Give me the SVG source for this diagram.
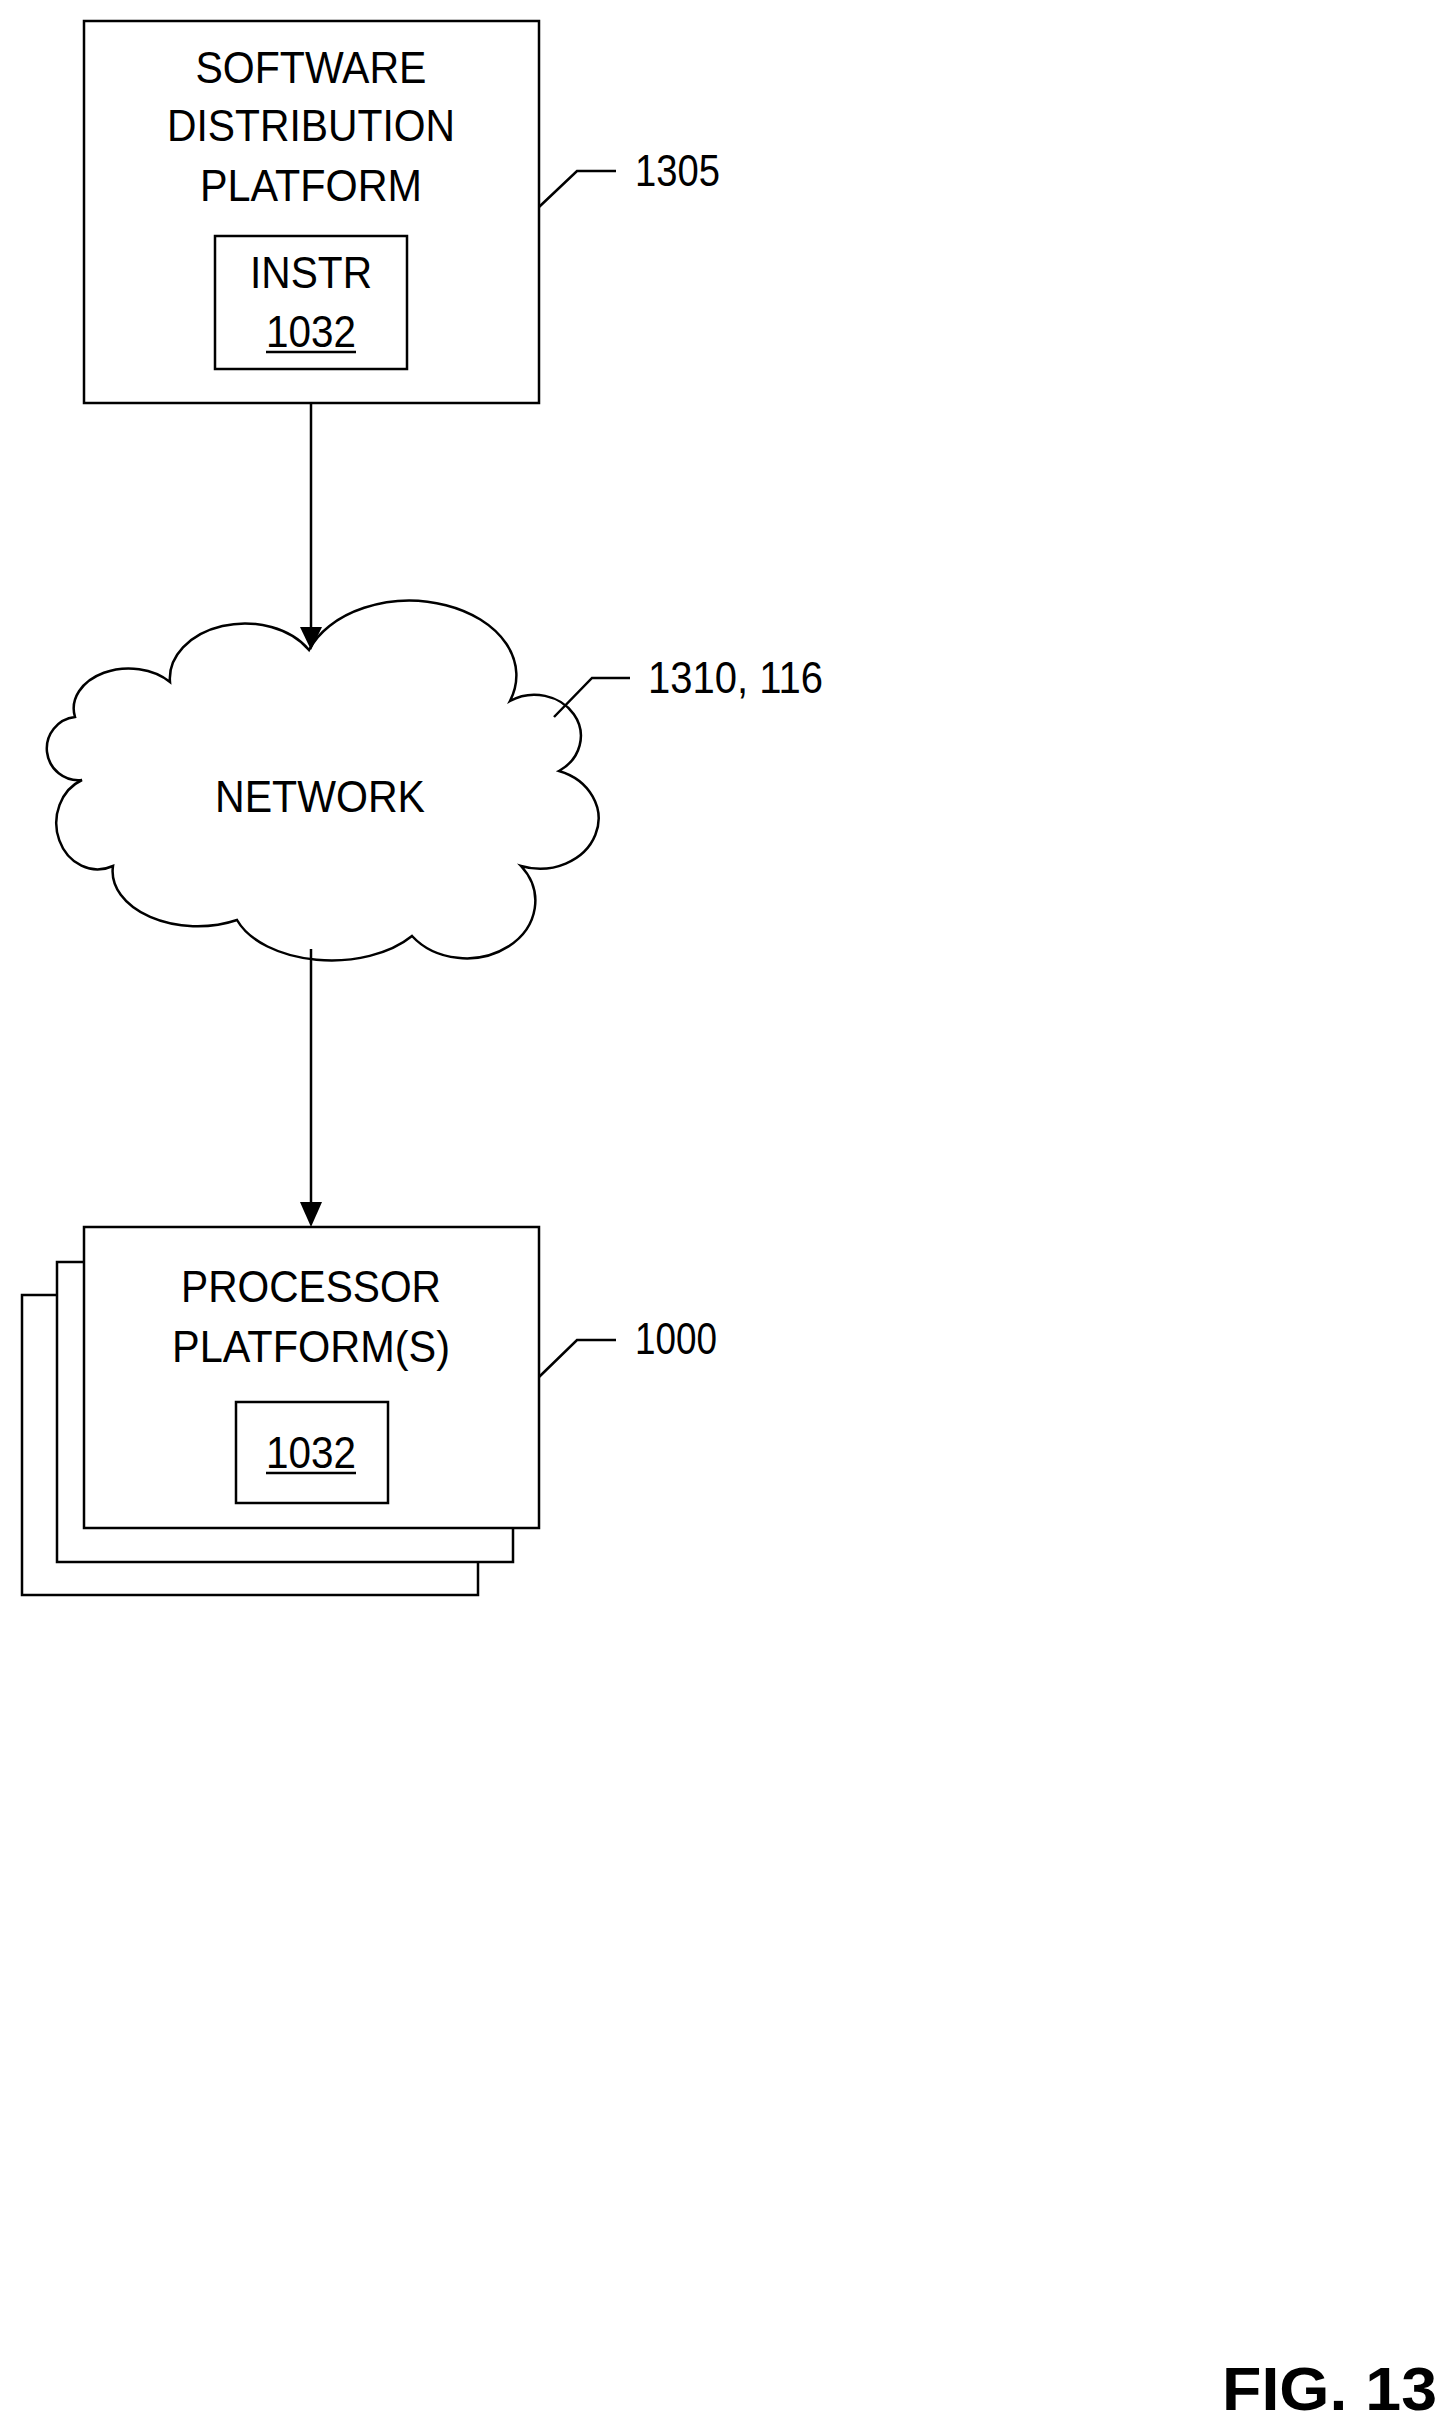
<svg xmlns="http://www.w3.org/2000/svg" width="1455" height="2422" viewBox="0 0 1455 2422">
<style>
.b{fill:#fff;stroke:#000;stroke-width:2.5}
.t{font-family:"Liberation Sans",Arial,sans-serif;font-size:44px;text-anchor:middle;fill:#000}
.l{font-family:"Liberation Sans",Arial,sans-serif;font-size:44px;fill:#000}
.ln{fill:none;stroke:#000;stroke-width:2.5}
</style>
<rect width="1455" height="2422" fill="#fff"/>
<g id="sdp">
<rect class="b" x="84" y="21" width="455" height="382"/>
<text class="t" x="311" y="83" textLength="231" lengthAdjust="spacingAndGlyphs">SOFTWARE</text>
<text class="t" x="311" y="141" textLength="288" lengthAdjust="spacingAndGlyphs">DISTRIBUTION</text>
<text class="t" x="311" y="201" textLength="222" lengthAdjust="spacingAndGlyphs">PLATFORM</text>
<rect class="b" x="215" y="236" width="192" height="133"/>
<text class="t" x="311" y="288" textLength="122" lengthAdjust="spacingAndGlyphs">INSTR</text>
<text class="t" x="311" y="347" textLength="90" lengthAdjust="spacingAndGlyphs">1032</text>
<line class="ln" x1="266" y1="352" x2="356" y2="352"/>
<polyline class="ln" points="539,207 577,171 616,171"/>
<text class="l" x="635" y="186" textLength="85" lengthAdjust="spacingAndGlyphs">1305</text>
</g>
<g id="network">
<path class="b" d="M170,682 A75,55 0 0 1 309,650 A100,70 0 0 1 510,701 A45,40 0 0 1 559,771 A35,30 0 0 1 521,866 A60,50 0 0 1 412,936 A100,60 0 0 1 237,920 A85,55 0 0 1 113,866 A40,45 0 0 1 82,780 A30,30 0 0 1 75,717 A55,40 0 0 1 170,682 Z"/>
<text class="t" x="320" y="812" textLength="210" lengthAdjust="spacingAndGlyphs">NETWORK</text>
<polyline class="ln" points="554,717 592,678 630,678"/>
<text class="l" x="648" y="693" textLength="175" lengthAdjust="spacingAndGlyphs">1310, 116</text>
</g>
<g id="processor">
<rect class="b" x="22" y="1295" width="456" height="300"/>
<rect class="b" x="57" y="1262" width="456" height="300"/>
<rect class="b" x="84" y="1227" width="455" height="301"/>
<text class="t" x="311" y="1302" textLength="260" lengthAdjust="spacingAndGlyphs">PROCESSOR</text>
<text class="t" x="311" y="1362" textLength="278" lengthAdjust="spacingAndGlyphs">PLATFORM(S)</text>
<rect class="b" x="236" y="1402" width="152" height="101"/>
<text class="t" x="311" y="1468" textLength="90" lengthAdjust="spacingAndGlyphs">1032</text>
<line class="ln" x1="266" y1="1473" x2="356" y2="1473"/>
<polyline class="ln" points="539,1377 577,1340 616,1340"/>
<text class="l" x="635" y="1354" textLength="82" lengthAdjust="spacingAndGlyphs">1000</text>
</g>
<g id="connectors">
<line class="ln" x1="311" y1="403" x2="311" y2="630"/>
<polygon points="300,627 322,627 311,650"/>
<line class="ln" x1="311" y1="949" x2="311" y2="1205"/>
<polygon points="300,1202 322,1202 311,1227"/>
</g>
<text x="1222" y="2410" font-family="Liberation Sans,Arial,sans-serif" font-size="62" font-weight="bold" textLength="215" lengthAdjust="spacingAndGlyphs">FIG. 13</text>
</svg>
